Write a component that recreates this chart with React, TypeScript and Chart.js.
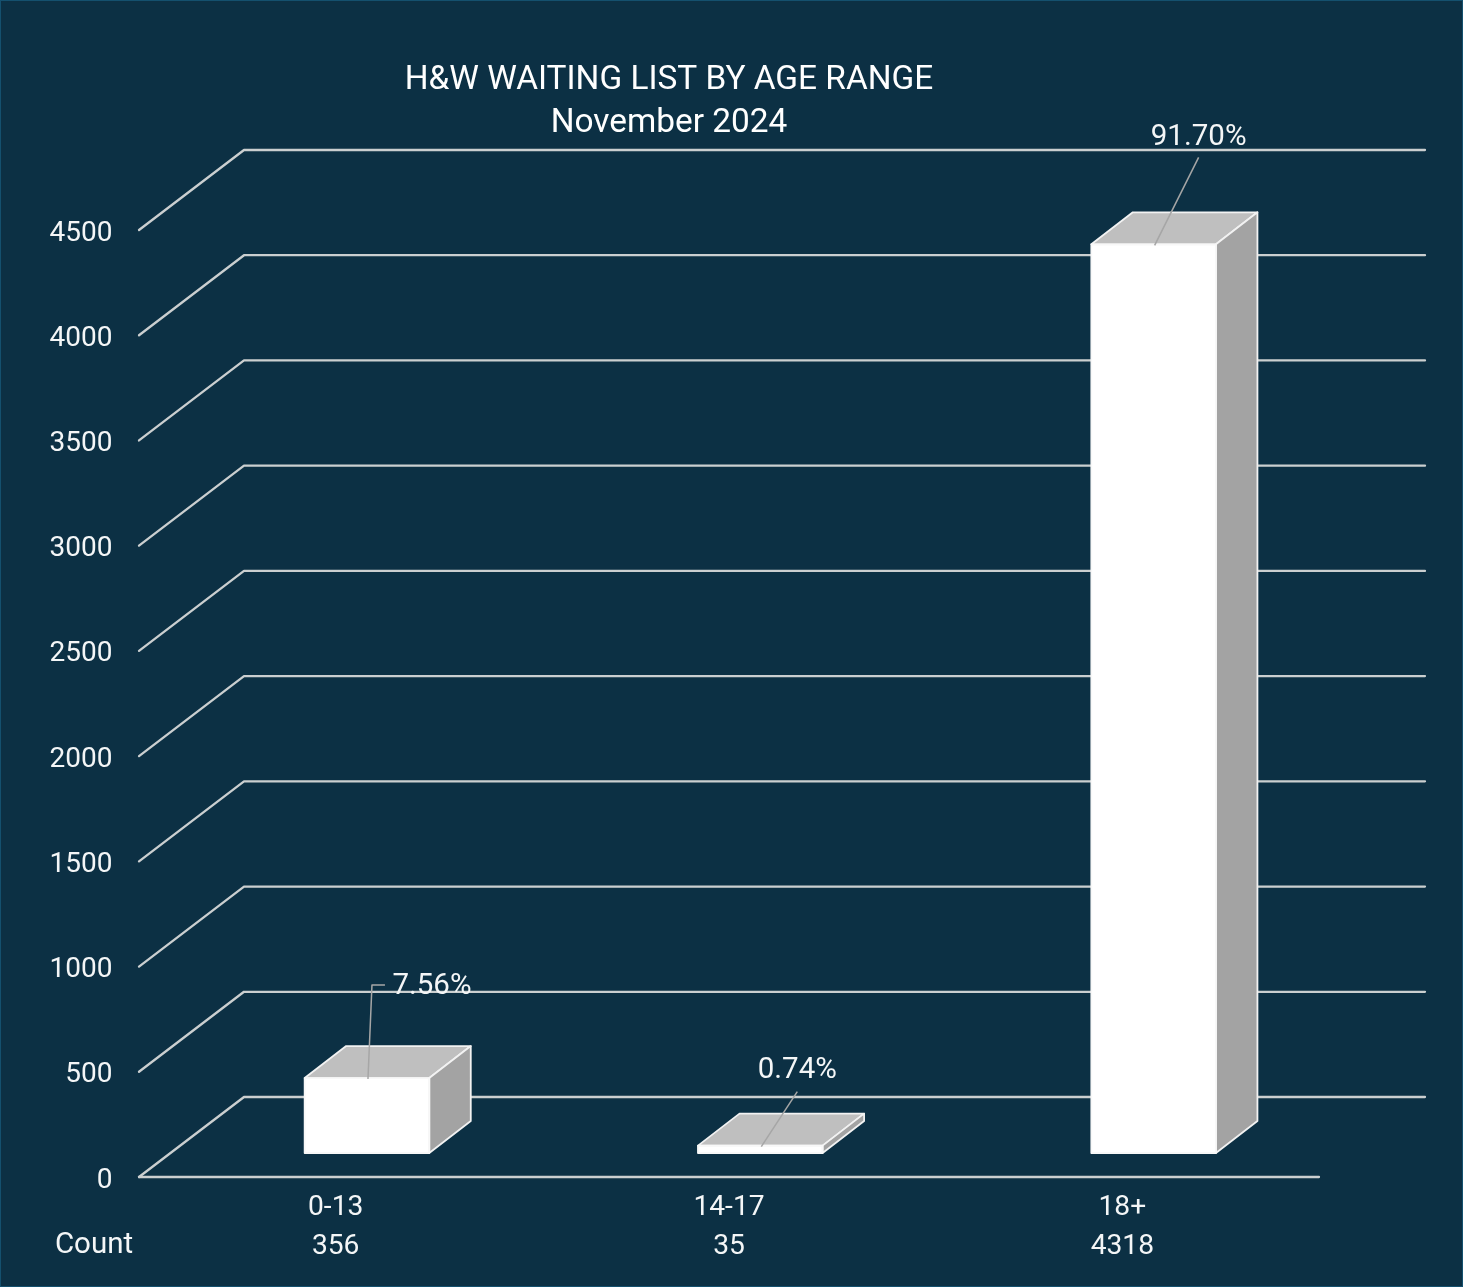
import React, { useEffect, useRef } from "react";
import { Chart, registerables } from "chart.js";

Chart.register(...registerables);

const categories = ["0-13", "14-17", "18+"];
const counts = [356, 35, 4318];
const shares = ["7.56%", "0.74%", "91.70%"];
const titleLines = ["H&W WAITING LIST BY AGE RANGE", "November 2024"];
const rowHeader = "Count";
const yMax = 4500;
const yStep = 500;

const FONT = 'Roboto, "Liberation Sans", Arial, sans-serif';
const BG = "#0C3044";
const TXT = "#F4F6F7";
const GRID = "#CBCFD0";
const WALL = { dx: 105, dy: -80 };
const BAR_SHIFT = { dx: 31.3, dy: -24 };
const BAR_DEPTH = { dx: 41.5, dy: -32 };

// Leader paths relative to each bar's top-front centre, then the label centre.
const leaders = [
  { path: [[1, 1], [5, -93], [18, -93]], label: [65, -91] },
  { path: [[1, 1], [37, -54]], label: [37, -75] },
  { path: [[1, 1], [45, -87]], label: [45, -107] },
];

const depthPlugin = {
  id: "depth3d",
  beforeDatasetsDraw(chart: any) {
    const { ctx, scales } = chart;
    const y = scales.y;
    const x = scales.x;
    const left = x.left;
    ctx.save();
    ctx.strokeStyle = GRID;
    ctx.lineWidth = 2.3;
    ctx.lineCap = "round";
    ctx.lineJoin = "round";
    y.ticks.forEach((t: any) => {
      const py = y.getPixelForValue(t.value);
      ctx.beginPath();
      ctx.moveTo(left, py);
      ctx.lineTo(left + WALL.dx, py + WALL.dy);
      ctx.lineTo(1425, py + WALL.dy);
      ctx.stroke();
    });
    const base = y.getPixelForValue(0);
    ctx.beginPath();
    ctx.moveTo(left, base);
    ctx.lineTo(x.right, base);
    ctx.stroke();
    ctx.restore();

    ctx.save();
    ctx.translate(BAR_SHIFT.dx, BAR_SHIFT.dy);
  },
  afterDatasetsDraw(chart: any) {
    const { ctx } = chart;
    ctx.restore();
    const bars = chart.getDatasetMeta(0).data;
    ctx.save();
    ctx.lineJoin = "round";
    bars.forEach((bar: any, i: number) => {
      const half = bar.width / 2;
      const l = bar.x - half + BAR_SHIFT.dx;
      const r = bar.x + half + BAR_SHIFT.dx;
      const t = bar.y + BAR_SHIFT.dy;
      const b = bar.base + BAR_SHIFT.dy;
      const { dx, dy } = BAR_DEPTH;

      ctx.strokeStyle = "#F2F2F2";
      ctx.lineWidth = 1.8;

      ctx.fillStyle = "#BFBFBF";
      ctx.beginPath();
      ctx.moveTo(l, t);
      ctx.lineTo(l + dx, t + dy);
      ctx.lineTo(r + dx, t + dy);
      ctx.lineTo(r, t);
      ctx.closePath();
      ctx.fill();
      ctx.stroke();

      ctx.fillStyle = "#A3A3A3";
      ctx.beginPath();
      ctx.moveTo(r, t);
      ctx.lineTo(r + dx, t + dy);
      ctx.lineTo(r + dx, b + dy);
      ctx.lineTo(r, b);
      ctx.closePath();
      ctx.fill();
      ctx.stroke();

      ctx.strokeStyle = "#F8F8F8";
      ctx.strokeRect(l, t, r - l, b - t);

      // Data label with its leader line
      const ax = bar.x + BAR_SHIFT.dx;
      const ay = t;
      const spec = leaders[i];
      ctx.strokeStyle = "#A6A6A6";
      ctx.lineWidth = 1.5;
      ctx.beginPath();
      spec.path.forEach(([px, py], k) => {
        if (k === 0) ctx.moveTo(ax + px, ay + py);
        else ctx.lineTo(ax + px, ay + py);
      });
      ctx.stroke();
      ctx.fillStyle = TXT;
      ctx.font = `29.5px ${FONT}`;
      ctx.textAlign = "center";
      ctx.textBaseline = "middle";
      ctx.fillText(shares[i], ax + spec.label[0], ay + spec.label[1]);
    });
    ctx.restore();
  },
  afterDraw(chart: any) {
    const { ctx } = chart;
    ctx.save();
    ctx.fillStyle = "#FFFFFF";
    ctx.textBaseline = "middle";
    ctx.textAlign = "center";
    ctx.font = `33.4px ${FONT}`;
    ctx.fillText(titleLines[0], 669, 81);
    ctx.fillText(titleLines[1], 669, 124);
    ctx.fillStyle = TXT;
    ctx.font = `29.5px ${FONT}`;
    ctx.fillText(rowHeader, 94, 1246);
    ctx.restore();
  },
};

export default function App() {
  const ref = useRef<HTMLCanvasElement | null>(null);

  useEffect(() => {
    const chart = new Chart(ref.current as HTMLCanvasElement, {
      type: "bar",
      data: {
        labels: categories.map((c, i) => [c, String(counts[i])]),
        datasets: [
          {
            data: counts,
            backgroundColor: "#FFFFFF",
            barThickness: 124.6,
            borderWidth: 0,
            clip: false,
          } as any,
        ],
      },
      options: {
        animation: false,
        responsive: false,
        devicePixelRatio: 1,
        layout: { padding: { top: 230, right: 144, bottom: 0, left: 0 } },
        plugins: { legend: { display: false }, title: { display: false }, tooltip: { enabled: false } },
        scales: {
          x: {
            grid: { display: false, drawTicks: false },
            border: { display: false },
            ticks: {
              color: TXT,
              padding: 12,
              maxRotation: 0,
              autoSkip: false,
              font: { family: FONT, size: 28.2, lineHeight: 1.36 },
            },
            afterFit(s: any) {
              s.height = 110;
            },
          },
          y: {
            min: 0,
            max: yMax,
            grid: { display: false, drawTicks: false },
            border: { display: false },
            ticks: {
              stepSize: yStep,
              color: TXT,
              padding: 26.5,
              labelOffset: 3.5,
              font: { family: FONT, size: 28 },
              callback: (v: any) => String(v),
            },
            afterFit(s: any) {
              s.width = 139;
            },
          },
        },
      },
      plugins: [depthPlugin],
    } as any);
    return () => chart.destroy();
  }, []);

  return (
    <div
      style={{
        position: "absolute",
        left: 0,
        top: 0,
        width: 1463,
        height: 1287,
        background: BG,
        boxSizing: "border-box",
        border: "1px solid #14506E",
      }}
    >
      <canvas
        ref={ref}
        width={1463}
        height={1287}
        style={{ position: "absolute", left: -1, top: -1, width: 1463, height: 1287, display: "block" }}
      />
    </div>
  );
}
